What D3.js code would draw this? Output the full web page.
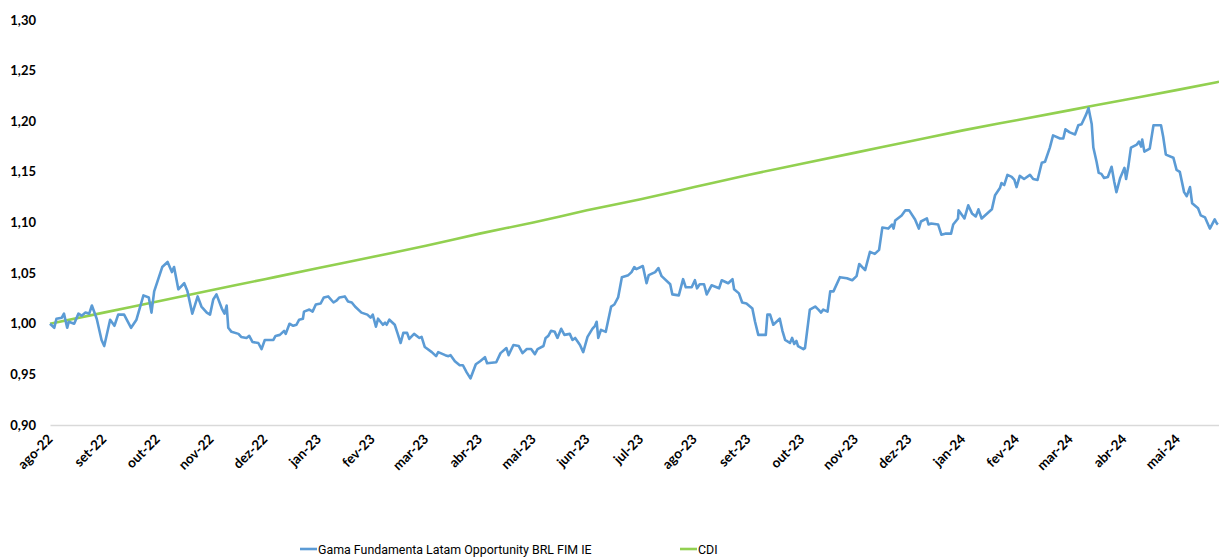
<!DOCTYPE html>
<html>
<head>
<meta charset="utf-8">
<script src="https://cdn.jsdelivr.net/npm/d3@7"></script>
<style>
  body { margin: 0; background: #fff; }
  svg { display: block; }
  text { font-family: Lato, "Open Sans", sans-serif; fill: #000; }
</style>
</head>
<body>
<div id="plot"></div>
<script>
  // month labels (one per month, ago-22 .. mai-24)
  var months = ["ago-22","set-22","out-22","nov-22","dez-22","jan-23","fev-23","mar-23","abr-23",
    "mai-23","jun-23","jul-23","ago-23","set-23","out-23","nov-23","dez-23","jan-24","fev-24",
    "mar-24","abr-24","mai-24"];

  var yTicks = [0.90, 0.95, 1.00, 1.05, 1.10, 1.15, 1.20, 1.25, 1.30];

  // CDI accumulated, read at each month start + last point
  var cdiMonths = [0,1,2,3,4,5,6,7,8,9,10,11,12,13,14,15,16,17,18,19,20,21,21.77];
  var cdiValues = [1.000,1.011,1.022,1.033,1.044,1.055,1.066,1.077,1.089,1.100,1.112,1.123,
    1.135,1.147,1.158,1.169,1.180,1.191,1.201,1.211,1.221,1.231,1.239];

  // fund, [months since ago-22, accumulated value]
  var fund = [
    [0,1.000],[0.08,0.996],[0.12,1.005],[0.22,1.006],[0.26,1.010],[0.32,0.996],[0.35,1.002],[0.45,1.000],
    [0.53,1.010],[0.59,1.008],[0.66,1.011],[0.73,1.010],[0.78,1.018],[0.87,1.005],[0.96,0.984],[1.01,0.978],
    [1.12,1.004],[1.20,0.998],[1.27,1.009],[1.38,1.009],[1.51,0.996],[1.61,1.004],[1.74,1.028],[1.84,1.026],
    [1.89,1.011],[1.94,1.032],[2.09,1.056],[2.19,1.061],[2.27,1.051],[2.31,1.056],[2.39,1.034],[2.50,1.040],
    [2.56,1.032],[2.65,1.010],[2.75,1.027],[2.82,1.017],[2.92,1.011],[2.98,1.009],[3.04,1.024],[3.10,1.029],
    [3.20,1.015],[3.25,1.010],[3.29,1.018],[3.32,0.996],[3.38,0.992],[3.51,0.990],[3.56,0.987],[3.66,0.986],
    [3.71,0.988],[3.77,0.982],[3.88,0.981],[3.94,0.975],[4.00,0.984],[4.16,0.984],[4.20,0.988],[4.28,0.989],
    [4.36,0.993],[4.39,0.990],[4.46,1.000],[4.53,0.998],[4.59,0.999],[4.64,1.004],[4.71,1.005],[4.73,1.012],
    [4.83,1.014],[4.89,1.012],[4.95,1.019],[5.04,1.020],[5.10,1.026],[5.18,1.027],[5.28,1.021],[5.34,1.023],
    [5.39,1.026],[5.49,1.027],[5.55,1.022],[5.62,1.021],[5.68,1.017],[5.80,1.011],[5.91,1.009],[5.97,1.006],
    [6.01,1.009],[6.07,0.997],[6.11,1.005],[6.20,0.999],[6.24,1.001],[6.27,0.999],[6.32,1.004],[6.42,0.999],
    [6.47,0.991],[6.53,0.981],[6.58,0.991],[6.65,0.991],[6.69,0.985],[6.78,0.990],[6.88,0.986],[6.92,0.987],
    [6.98,0.977],[7.11,0.972],[7.19,0.968],[7.23,0.972],[7.36,0.969],[7.42,0.968],[7.46,0.969],[7.54,0.963],
    [7.63,0.959],[7.69,0.959],[7.76,0.952],[7.83,0.946],[7.93,0.960],[8.01,0.963],[8.10,0.967],[8.14,0.961],
    [8.31,0.962],[8.39,0.971],[8.50,0.976],[8.54,0.969],[8.63,0.979],[8.73,0.978],[8.80,0.971],[8.88,0.975],
    [8.96,0.975],[9.03,0.970],[9.08,0.975],[9.19,0.978],[9.23,0.986],[9.28,0.988],[9.33,0.993],[9.40,0.992],
    [9.45,0.986],[9.52,0.995],[9.58,0.989],[9.68,0.990],[9.73,0.984],[9.78,0.986],[9.87,0.979],[9.93,0.972],
    [10.01,0.987],[10.10,0.995],[10.15,0.998],[10.18,1.002],[10.21,0.986],[10.26,0.994],[10.35,0.992],[10.45,1.017],
    [10.51,1.019],[10.58,1.026],[10.65,1.046],[10.77,1.048],[10.83,1.051],[10.88,1.056],[10.92,1.054],[11.04,1.057],
    [11.11,1.040],[11.15,1.048],[11.27,1.051],[11.33,1.055],[11.39,1.047],[11.55,1.039],[11.59,1.029],[11.71,1.028],
    [11.79,1.044],[11.84,1.036],[11.95,1.036],[12.01,1.043],[12.05,1.035],[12.10,1.039],[12.18,1.039],[12.23,1.029],
    [12.32,1.038],[12.46,1.035],[12.51,1.043],[12.63,1.040],[12.71,1.044],[12.74,1.034],[12.83,1.030],[12.89,1.021],
    [12.97,1.020],[13.08,1.015],[13.13,1.002],[13.19,0.989],[13.33,0.989],[13.36,1.009],[13.41,1.009],[13.47,0.999],
    [13.59,1.005],[13.64,0.993],[13.69,0.984],[13.78,0.981],[13.82,0.986],[13.86,0.980],[13.90,0.983],[13.93,0.978],
    [14.03,0.975],[14.06,0.976],[14.15,1.014],[14.25,1.017],[14.31,1.014],[14.36,1.011],[14.40,1.014],[14.48,1.012],
    [14.53,1.032],[14.59,1.032],[14.71,1.046],[14.84,1.045],[14.94,1.043],[15.02,1.047],[15.07,1.059],[15.18,1.053],
    [15.27,1.071],[15.36,1.069],[15.44,1.073],[15.50,1.095],[15.61,1.094],[15.68,1.098],[15.71,1.094],[15.74,1.102],
    [15.86,1.107],[15.93,1.112],[16.00,1.112],[16.11,1.103],[16.18,1.094],[16.22,1.101],[16.33,1.104],[16.36,1.098],
    [16.41,1.099],[16.54,1.098],[16.60,1.088],[16.67,1.089],[16.78,1.089],[16.82,1.098],[16.91,1.104],[16.92,1.112],
    [17.03,1.104],[17.10,1.117],[17.17,1.109],[17.24,1.106],[17.29,1.113],[17.35,1.104],[17.54,1.113],[17.60,1.127],
    [17.69,1.134],[17.72,1.139],[17.77,1.137],[17.83,1.147],[17.91,1.145],[17.96,1.142],[18.00,1.135],[18.06,1.146],
    [18.14,1.143],[18.25,1.147],[18.31,1.143],[18.39,1.142],[18.47,1.159],[18.53,1.160],[18.62,1.174],[18.68,1.186],
    [18.81,1.183],[18.87,1.183],[18.91,1.192],[18.99,1.189],[19.09,1.187],[19.15,1.196],[19.21,1.197],[19.29,1.206],
    [19.34,1.213],[19.40,1.197],[19.43,1.174],[19.49,1.160],[19.53,1.149],[19.58,1.148],[19.63,1.144],[19.70,1.145],
    [19.77,1.155],[19.82,1.140],[19.86,1.130],[19.93,1.144],[20.01,1.154],[20.04,1.143],[20.08,1.155],[20.13,1.174],
    [20.24,1.177],[20.28,1.180],[20.32,1.175],[20.34,1.182],[20.38,1.170],[20.48,1.173],[20.55,1.196],[20.69,1.196],
    [20.73,1.185],[20.78,1.167],[20.92,1.164],[20.98,1.152],[21.04,1.150],[21.12,1.130],[21.17,1.126],[21.23,1.135],
    [21.27,1.119],[21.38,1.114],[21.43,1.107],[21.51,1.105],[21.60,1.094],[21.69,1.103],[21.73,1.099],[21.75,1.098]
  ];

  var seriesNames = ["Gama Fundamenta Latam Opportunity BRL FIM IE", "CDI"];
  var colors = ["#5b9bd5", "#92d050"];

  var W = 1219, H = 558;
  var margin = {top: 20, right: 0, bottom: 133, left: 50};

  var svg = d3.select("#plot").append("svg")
      .attr("width", W)
      .attr("height", H);

  var x = d3.scaleLinear().domain([0, 21.77]).range([margin.left, W - margin.right]);
  var y = d3.scaleLinear().domain([0.90, 1.30]).range([H - margin.bottom, margin.top]);

  var fmt = function(d) { return d3.format(".2f")(d).replace(".", ","); };

  // y labels (no axis line)
  svg.append("g").selectAll("text")
    .data(yTicks)
    .enter().append("text")
      .attr("x", 36)
      .attr("y", function(d) { return y(d); })
      .attr("dy", "0.35em")
      .attr("text-anchor", "end")
      .style("font-size", "13px")
      .style("font-weight", "bold")
      .text(fmt);

  // baseline + month labels
  var xAxis = d3.axisBottom(x)
      .tickValues(d3.range(months.length))
      .tickSize(0)
      .tickFormat(function(d) { return months[d]; });

  var gx = svg.append("g")
      .attr("transform", "translate(0," + y(0.90) + ")")
      .call(xAxis);
  gx.select(".domain").attr("stroke", "#d9d9d9").attr("stroke-width", 1.5);
  gx.selectAll("text")
      .attr("font-family", null)
      .attr("font-size", null)
      .style("font-size", "13.5px")
      .style("font-weight", "bold")
      .attr("text-anchor", "end")
      .attr("dy", null)
      .attr("y", 0)
      .attr("transform", "translate(3,15) rotate(-45)");

  var lineCdi = d3.line()
      .x(function(d, i) { return x(cdiMonths[i]); })
      .y(function(d) { return y(d); })
      .curve(d3.curveMonotoneX);

  var lineFund = d3.line()
      .x(function(d) { return x(d[0]); })
      .y(function(d) { return y(d[1]); });

  svg.append("path")
      .datum(cdiValues)
      .attr("fill", "none")
      .attr("stroke", colors[1])
      .attr("stroke-width", 2.6)
      .attr("d", lineCdi);

  svg.append("path")
      .datum(fund)
      .attr("fill", "none")
      .attr("stroke", colors[0])
      .attr("stroke-width", 2.6)
      .attr("stroke-linejoin", "round")
      .attr("d", lineFund);

  // legend
  var legendX = [300, 680];
  var lg = svg.append("g").selectAll("g")
    .data(seriesNames)
    .enter().append("g")
      .attr("transform", function(d, i) { return "translate(" + legendX[i] + ",549)"; });
  lg.append("line")
      .attr("x1", 0).attr("x2", 17)
      .attr("stroke", function(d, i) { return colors[i]; })
      .attr("stroke-width", 2.6);
  lg.append("text")
      .attr("x", 18)
      .attr("dy", "0.4em")
      .style("font-family", "Roboto, Lato, sans-serif")
      .style("font-size", "12.4px")
      .text(function(d) { return d; });
</script>
</body>
</html>
